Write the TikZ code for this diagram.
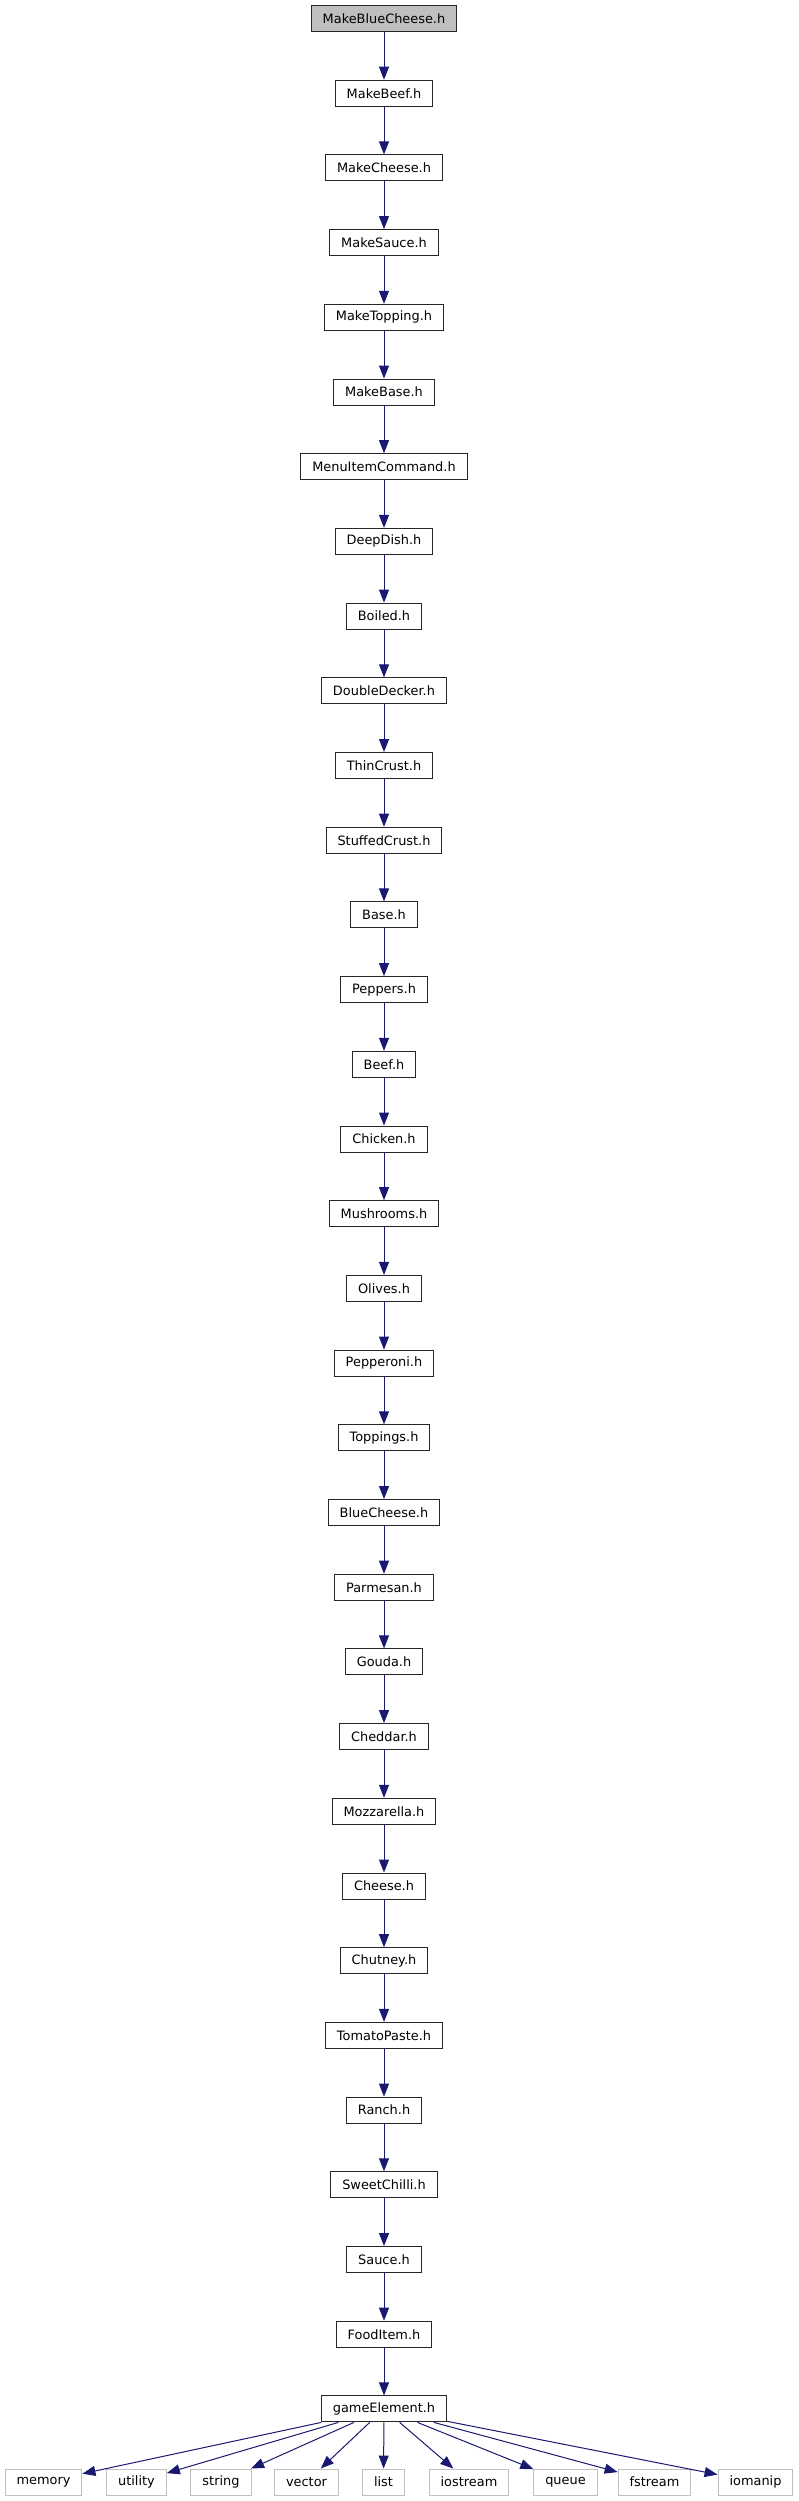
\documentclass[tikz,border=0pt]{standalone}
\usepackage{fontspec}
\setmainfont{DejaVu Sans}
\usepackage{xcolor}
\usetikzlibrary{arrows.meta}

\definecolor{edgeblue}{RGB}{25,25,112}
\tikzset{
  file/.style={draw=black!85, fill=white, line width=1pt, minimum height=26pt,
    inner xsep=11.5pt, inner ysep=0pt, font=\fontsize{12.9pt}{15pt}\selectfont},
  top/.style={file, fill=gray!50},
  sys/.style={file, draw=lightgray}
}

\begin{document}
\begin{tikzpicture}[x=1pt,y=-1pt]
\useasboundingbox (0,0) rectangle (799,2501);
  \node[top]   (MBC) at (384,18.5)    {MakeBlueCheese.h};
  \node[file]  (MBF) at (384,93.2)    {MakeBeef.h};
  \node[file]  (MCH) at (384,167.9)   {MakeCheese.h};
  \node[file]  (MSA) at (384,242.6)   {MakeSauce.h};
  \node[file]  (MTO) at (384,317.3)   {MakeTopping.h};
  \node[file]  (MBA) at (384,392.0)   {MakeBase.h};
  \node[file]  (MIC) at (384,466.7)   {MenuItemCommand.h};
  \node[file]  (DD)  at (384,541.4)   {DeepDish.h};
  \node[file]  (BO)  at (384,616.1)   {Boiled.h};
  \node[file]  (DDK) at (384,690.8)   {DoubleDecker.h};
  \node[file]  (TC)  at (384,765.5)   {ThinCrust.h};
  \node[file]  (SC)  at (384,840.2)   {StuffedCrust.h};
  \node[file]  (BA)  at (384,914.9)   {Base.h};
  \node[file]  (PP)  at (384,989.6)   {Peppers.h};
  \node[file]  (BF)  at (384,1064.3)  {Beef.h};
  \node[file]  (CK)  at (384,1139.0)  {Chicken.h};
  \node[file]  (MR)  at (384,1213.7)  {Mushrooms.h};
  \node[file]  (OL)  at (384,1288.4)  {Olives.h};
  \node[file]  (PR)  at (384,1363.1)  {Pepperoni.h};
  \node[file]  (TO)  at (384,1437.8)  {Toppings.h};
  \node[file]  (BC)  at (384,1512.5)  {BlueCheese.h};
  \node[file]  (PM)  at (384,1587.2)  {Parmesan.h};
  \node[file]  (GD)  at (384,1661.9)  {Gouda.h};
  \node[file]  (CD)  at (384,1736.6)  {Cheddar.h};
  \node[file]  (MZ)  at (384,1811.3)  {Mozzarella.h};
  \node[file]  (CH)  at (384,1886.0)  {Cheese.h};
  \node[file]  (CT)  at (384,1960.7)  {Chutney.h};
  \node[file]  (TP)  at (384,2035.4)  {TomatoPaste.h};
  \node[file]  (RN)  at (384,2110.1)  {Ranch.h};
  \node[file]  (SW)  at (384,2184.8)  {SweetChilli.h};
  \node[file]  (SA)  at (384,2259.5)  {Sauce.h};
  \node[file]  (FI)  at (384,2334.2)  {FoodItem.h};
  \node[file]  (GE)  at (384,2408.9)  {gameElement.h};
  \node[sys]   (MEM) at (43.5,2482)   {memory};
  \node[sys]   (UT)  at (136.5,2482)  {utility};
  \node[sys]   (STR) at (221,2482)    {string};
  \node[sys]   (VEC) at (306.5,2482)  {vector};
  \node[sys]   (LST) at (383.5,2482)  {list};
  \node[sys]   (IOS) at (469,2482)    {iostream};
  \node[sys]   (QU)  at (565.5,2482)  {queue};
  \node[sys]   (FS)  at (654.5,2482)  {fstream};
  \node[sys]   (IOM) at (755.5,2482)  {iomanip};

  \path[->,>={Triangle[length=13pt,width=10pt]}, color=edgeblue, line width=1pt]
        (MBC) edge (MBF)
        (MBF) edge (MCH)
        (MCH) edge (MSA)
        (MSA) edge (MTO)
        (MTO) edge (MBA)
        (MBA) edge (MIC)
        (MIC) edge (DD)
        (DD)  edge (BO)
        (BO)  edge (DDK)
        (DDK) edge (TC)
        (TC)  edge (SC)
        (SC)  edge (BA)
        (BA)  edge (PP)
        (PP)  edge (BF)
        (BF)  edge (CK)
        (CK)  edge (MR)
        (MR)  edge (OL)
        (OL)  edge (PR)
        (PR)  edge (TO)
        (TO)  edge (BC)
        (BC)  edge (PM)
        (PM)  edge (GD)
        (GD)  edge (CD)
        (CD)  edge (MZ)
        (MZ)  edge (CH)
        (CH)  edge (CT)
        (CT)  edge (TP)
        (TP)  edge (RN)
        (RN)  edge (SW)
        (SW)  edge (SA)
        (SA)  edge (FI)
        (FI)  edge (GE)
        (GE)  edge (MEM)
        (GE)  edge (UT)
        (GE)  edge (STR)
        (GE)  edge (VEC)
        (GE)  edge (LST)
        (GE)  edge (IOS)
        (GE)  edge (QU)
        (GE)  edge (FS)
        (GE)  edge (IOM);
\end{tikzpicture}
\end{document}
